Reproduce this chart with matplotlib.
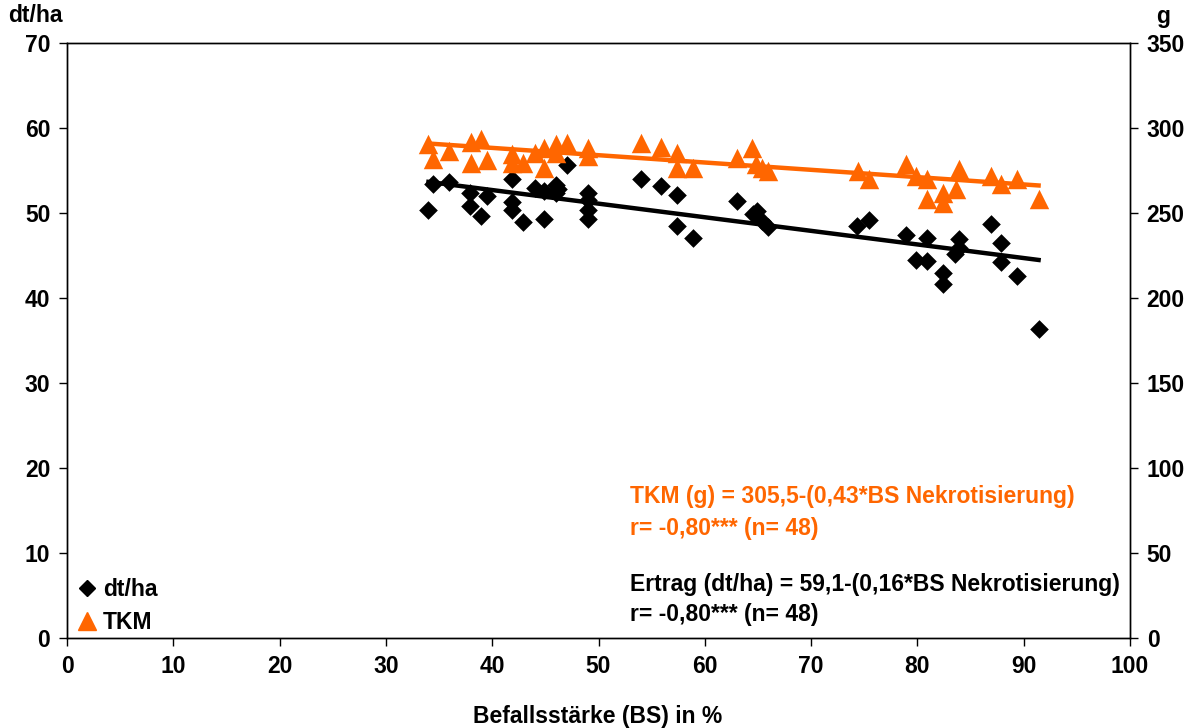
import matplotlib
matplotlib.use("Agg")
import matplotlib.pyplot as plt
import numpy as np
from matplotlib.lines import Line2D

plt.rcParams['font.family'] = ['Liberation Sans', 'DejaVu Sans']
plt.rcParams['font.weight'] = 'bold'

# dt/ha data (Befallsstärke %, Ertrag dt/ha)
bs_yield = [34, 34.4, 35.9, 37.9, 37.9, 38.9, 39.5, 41.9, 41.9, 41.9, 42.9, 44, 44.9, 44.9,
            46, 46, 47, 49, 49, 49, 49, 54, 55.9, 57.4, 57.4, 58.9, 63, 64.5, 64.9, 65.4,
            65.9, 74.3, 75.4, 78.9, 79.9, 80.9, 80.9, 82.4, 82.4, 83.9, 83.9, 83.5, 86.9,
            87.9, 87.9, 89.4, 91.4, 46.2]
yield_dt = [50.3, 53.4, 53.6, 52.3, 50.8, 49.6, 52.0, 54.0, 51.3, 50.3, 49.0, 53.0, 52.6, 49.3,
            53.3, 52.3, 55.7, 52.4, 51.5, 50.4, 49.3, 54.0, 53.2, 52.1, 48.5, 47.1, 51.4, 49.9,
            50.2, 49.1, 48.3, 48.5, 49.2, 47.4, 44.5, 47.1, 44.3, 42.9, 41.7, 47.0, 45.9, 45.2,
            48.7, 46.5, 44.2, 42.6, 36.4, 52.8]

# TKM data (Befallsstärke %, TKM g)
bs_tkm = [34, 34.4, 35.9, 38, 38, 38.9, 39.5, 41.9, 41.9, 42.9, 44, 44.9, 44.9, 46, 46, 47,
          49, 49, 54, 55.9, 57.4, 57.4, 58.9, 63, 64.4, 64.8, 65.4, 65.9, 74.4, 75.4, 78.9,
          79.9, 80.9, 80.9, 82.4, 82.4, 83.9, 83.6, 86.9, 87.9, 89.4, 91.4]
tkm_g = [290.6, 282, 286.5, 292, 279.5, 293.6, 281, 284.8, 279.5, 279.5, 285, 288, 276.6, 290.7,
         285, 291, 288, 283.6, 291, 289, 285, 276.6, 276.6, 282.5, 288, 279, 276.6, 274.8,
         274.8, 270, 279, 272, 270, 258, 262, 256, 276, 264, 272, 267, 270, 258]

# regression equations from the chart text
yield_a, yield_b = 59.1, -0.16
tkm_a, tkm_b = 305.5, -0.43

orange = '#FF6600'
fs = 16.5

fig = plt.figure(figsize=(11.96, 7.28), dpi=100)
ax = fig.add_axes([67/1196, 1 - 638/728, (1130 - 67)/1196, (638 - 43)/728])
ax2 = ax.twinx()

ax.scatter(bs_yield, yield_dt, marker='D', s=9.5**2, color='black', zorder=3, linewidths=0)
xl = np.array([min(bs_yield), max(bs_yield)])
ax.plot(xl, yield_a + yield_b * xl, color='black', lw=3.2, zorder=2)

ax2.scatter(bs_tkm, tkm_g, marker='^', s=14**2, color=orange, zorder=3, linewidths=0)
xt = np.array([min(bs_tkm), max(bs_tkm)])
ax2.plot(xt, tkm_a + tkm_b * xt, color=orange, lw=3.2, zorder=2)

ax.set_xlim(0, 100)
ax.set_ylim(0, 70)
ax2.set_ylim(0, 350)
ax.set_xticks(np.arange(0, 101, 10))
ax.set_yticks(np.arange(0, 71, 10))
ax2.set_yticks(np.arange(0, 351, 50))

for a in (ax, ax2):
    a.tick_params(direction='out', length=6, width=1, labelsize=fs, pad=6)
    for s in a.spines.values():
        s.set_linewidth(1)
for lab in ax.get_xticklabels() + ax.get_yticklabels() + ax2.get_yticklabels():
    lab.set_fontweight('bold')

fig.text(598/1196, 1 - 716/728, 'Befallsstärke (BS) in %', fontsize=fs, fontweight='bold',
         ha='center', va='center')
fig.text(8/1196, 1 - 16/728, 'dt/ha', fontsize=fs, fontweight='bold', ha='left', va='center')
fig.text(1163/1196, 1 - 16/728, 'g', fontsize=fs, fontweight='bold', ha='center', va='center')

fig.text(630/1196, 1 - 497/728, 'TKM (g) = 305,5-(0,43*BS Nekrotisierung)', color=orange,
         fontsize=fs, fontweight='bold', ha='left', va='center')
fig.text(630/1196, 1 - 528/728, 'r= -0,80*** (n= 48)', color=orange,
         fontsize=fs, fontweight='bold', ha='left', va='center')
fig.text(630/1196, 1 - 585/728, 'Ertrag (dt/ha) = 59,1-(0,16*BS Nekrotisierung)', color='black',
         fontsize=fs, fontweight='bold', ha='left', va='center')
fig.text(630/1196, 1 - 614/728, 'r= -0,80*** (n= 48)', color='black',
         fontsize=fs, fontweight='bold', ha='left', va='center')

handles = [Line2D([], [], marker='D', color='black', ls='none', markersize=8),
           Line2D([], [], marker='^', color=orange, ls='none', markersize=13)]
leg = ax2.legend(handles, ['dt/ha', 'TKM'], loc='lower left', bbox_to_anchor=(-0.007, -0.028),
                 frameon=False, handlelength=0.6, handletextpad=0.4, labelspacing=0.45,
                 prop={'size': fs, 'weight': 'bold'})

fig.savefig('out.png', dpi=100)
